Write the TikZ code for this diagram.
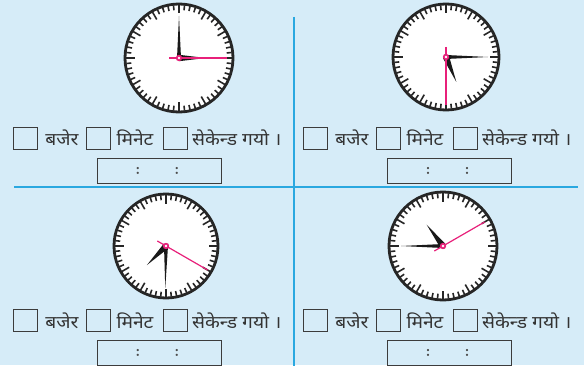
\documentclass[tikz,border=0pt]{standalone}
\usepackage{fontspec}
\newfontfamily\deva[Script=Devanagari,FakeStretch=1.1]{Noto Sans}
\definecolor{bg}{HTML}{D6ECF8}
\definecolor{rule}{HTML}{2AA8E0}
\definecolor{pinkhand}{HTML}{E8207A}
\definecolor{boxline}{HTML}{3C3C3C}
\tikzset{
  smallbox/.style={draw=boxline,line width=0.9pt,minimum width=24pt,minimum height=22pt,inner sep=0pt},
  ansbox/.style={draw=boxline,line width=1pt,minimum width=124pt,minimum height=25pt,inner sep=0pt},
  word/.style={inner sep=0pt,font=\deva\fontsize{17.5}{19}\selectfont,text=black!80},
  colon/.style={inner sep=0pt,font=\bfseries\fontsize{16}{18}\selectfont,text=black!70},
  pics/clock/.style n args={4}{code={
    \fill[white] (0,0) circle (#1);
    \foreach \i in {0,...,59}{
      \pgfmathsetmacro\tl{ifthenelse(mod(\i,5)==0,9.5,6)}
      \draw[line width=1.6pt,black!85] (\i*6:#1-1) -- (\i*6:#1-\tl);
    }
    \draw[line width=2.8pt,black!85] (0,0) circle (#1);
    % hour hand
    \fill[black!90] (#2:27) -- (#2+90:3.2) -- (#2+180:3) -- (#2-90:3.2) -- cycle;
    % minute hand
    \fill[black!90] (#3:42) -- (#3+90:2) -- (#3+180:3) -- (#3-90:2) -- cycle;
    % second hand
    \draw[pinkhand,line width=1.2pt] (#4+180:10) -- (#4:48);
    \fill[pinkhand] (0,0) circle (3.2);
    \fill[white] (0,0) circle (1.3);
  }}
}
\begin{document}
\begin{tikzpicture}[x=1pt,y=1pt]
\useasboundingbox (0,0) rectangle (584,365);
\clip (0,0) rectangle (584,365);
\fill[bg] (0,0) rectangle (584,365);
% dividers
\coordinate (hl) at (14,178);
\coordinate (hr) at (578,178);
\coordinate (vt) at (294,348);
\coordinate (vb) at (294,-2);
\draw[rule,line width=2pt] (hl) -- (hr);
\draw[rule,line width=2pt] (vt) -- (vb);
% clocks
\pic (c1) at (179,307) {clock={54}{0}{90}{0}};
\pic (c2) at (446,308) {clock={53}{-67.5}{0}{-90}};
\pic (c3) at (166,119) {clock={52}{-135}{-91}{-30}};
\pic (c4) at (443,119) {clock={54}{127.5}{180}{30}};
% text rows
\foreach \dx/\yb/\ya/\n in {0/227/194.5/a, 290/227/194.5/b, 0/44.5/12/c, 290/44.5/12/d}{
  \node[smallbox] (b1\n) at (25.5+\dx,\yb) {};
  \node[word] (w1\n) at (62+\dx,\yb) {बजेर};
  \node[smallbox] (b2\n) at (98.5+\dx,\yb) {};
  \node[word] (w2\n) at (135+\dx,\yb) {मिनेट};
  \node[smallbox] (b3\n) at (175+\dx,\yb) {};
  \node[word,anchor=west] (w3\n) at (192+\dx,\yb) {सेकेन्ड गयो ।};
  \node[ansbox] (ans\n) at (159+\dx,\ya) {};
  \node[colon] (k1\n) at (138+\dx,\ya) {:};
  \node[colon] (k2\n) at (177+\dx,\ya) {:};
}
\end{tikzpicture}
\end{document}
